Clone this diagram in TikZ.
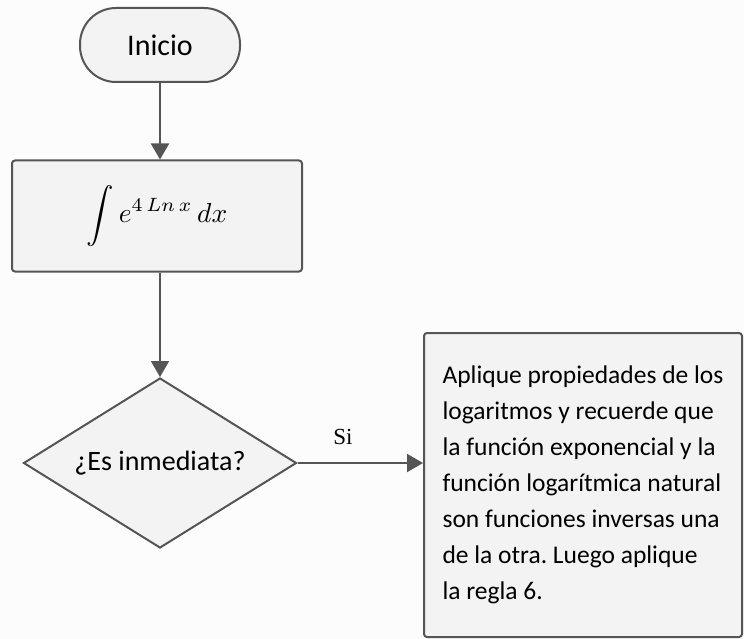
\documentclass[tikz,border=0pt]{standalone}
\usepackage{graphicx}
\usepackage{fontspec}
\setmainfont{Carlito}
\newfontfamily\serifsi{Liberation Serif}
\usetikzlibrary{shapes.geometric,arrows.meta}
\definecolor{bg}{HTML}{FCFCFC}
\definecolor{boxfill}{HTML}{F3F3F3}
\definecolor{edge}{HTML}{555555}
\tikzset{
  shapebox/.style={draw=edge, fill=boxfill, line width=2pt},
  conn/.style={draw=edge, line width=2pt, -{Triangle[width=18pt,length=16pt]}},
}
\frenchspacing
\begin{document}
\begin{tikzpicture}[x=1pt,y=-1pt]
\fill[bg] (0,0) rectangle (744,639);
\useasboundingbox (0,0) rectangle (744,639);
\node[shapebox, rounded corners=36pt, minimum width=160pt, minimum height=74pt, inner sep=0pt,
  font=\fontsize{30}{36}\selectfont] (inicio) at (160,45) {Inicio};
\node[shapebox, rounded corners=3pt, minimum width=290pt, minimum height=111pt, inner sep=0pt] (integ) at (157,216)
  {\scalebox{2.75}{$\displaystyle\int e^{4\,Ln\,x}\,dx$}};
\node[shapebox, diamond, aspect=1.6, minimum width=273pt, minimum height=170pt, inner sep=0pt,
  font=\fontsize{28}{32}\selectfont] (dec) at (160,463) {\makebox[0pt]{¿Es inmediata?}};
\node[shapebox, rounded corners=3pt, minimum width=318pt, minimum height=304pt,
  inner sep=0pt, align=left, font=\fontsize{25.5}{36}\selectfont] (regla) at (583,485)
  {Aplique propiedades de los\\ logaritmos y recuerde que\\ la función exponencial y la\\ función logarítmica natural\\ son funciones inversas una\\ de la otra. Luego aplique\\ la regla 6.};
\node[font=\serifsi\fontsize{23}{26}\selectfont, inner sep=0pt] (si) at (343,437) {Si};
\draw[conn] (inicio.south) -- (integ.north -| inicio.south);
\draw[conn] (integ.south -| dec.north) -- (dec.north);
\draw[conn] (dec.east) -- (dec.east -| regla.west);
\end{tikzpicture}
\end{document}
